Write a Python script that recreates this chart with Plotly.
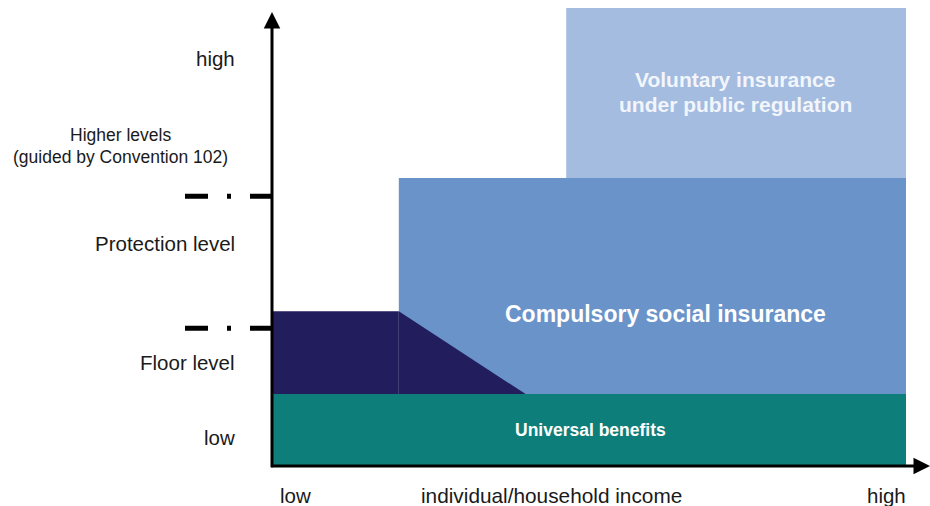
import plotly.graph_objects as go

# abstract units: income 0..100 along x, protection level 0..100 along y
income_edges = [0, 20, 40, 46.4, 100]       # start, compulsory start, floor taper end, voluntary start, end
level_edges = [0, 15.7, 33.8, 62.9, 100]     # ground, universal top, floor top, compulsory top, voluntary top
marker_levels = [30.1, 58.9]                 # dash-dot marks on the vertical axis

TEAL = "#0E7E7B"
NAVY = "#221E5E"
MID_BLUE = "#6A93CA"
LIGHT_BLUE = "#A3BCE0"
INK = "#1A1A1A"

W, H = 930, 506
X0_PX, X1_PX = 272, 906
Y0_PX, Y1_PX = 466, 8
sx = (X1_PX - X0_PX) / 100
sy = (Y0_PX - Y1_PX) / 100

x_lo, x_start, x_taper, x_vol, x_hi = income_edges
y_lo, y_uni, y_floor, y_comp, y_vol = level_edges


def poly(xs, ys, color):
    return go.Scatter(x=xs + [xs[0]], y=ys + [ys[0]], mode="lines", fill="toself",
                      fillcolor=color, line=dict(width=0, color=color),
                      hoverinfo="skip", showlegend=False)


fig = go.Figure()
# voluntary insurance
fig.add_trace(poly([x_vol, x_hi, x_hi, x_vol], [y_comp, y_comp, y_vol, y_vol], LIGHT_BLUE))
# compulsory social insurance
fig.add_trace(poly([x_start, x_hi, x_hi, x_start], [y_uni, y_uni, y_comp, y_comp], MID_BLUE))
# floor (non-contributory) with taper
fig.add_trace(poly([x_lo, x_start, x_start, x_lo], [y_uni, y_uni, y_floor, y_floor], NAVY))
fig.add_trace(poly([x_start, x_taper, x_start], [y_uni, y_uni, y_floor], NAVY))
# universal benefits
fig.add_trace(poly([x_lo, x_hi, x_hi, x_lo], [y_lo, y_lo, y_uni, y_uni], TEAL))

# dash-dot markers on the vertical axis
for lv in marker_levels:
    fig.add_trace(go.Scatter(x=[-(272 - 185) / sx, 0], y=[lv, lv], mode="lines",
                             line=dict(color="black", width=5, dash="23px,19px,4px,19px"),
                             hoverinfo="skip", showlegend=False))

# axes with arrows
fig.add_annotation(x=0, y=(Y0_PX - 12) / sy, ax=0, ay=-0.6, xref="x", yref="y",
                   axref="x", ayref="y", showarrow=True, arrowhead=2, arrowsize=1.1,
                   arrowwidth=3, arrowcolor="black", text="")
fig.add_annotation(x=(930 - X0_PX) / sx, y=0, ax=-0.4, ay=0, xref="x", yref="y",
                   axref="x", ayref="y", showarrow=True, arrowhead=2, arrowsize=1.1,
                   arrowwidth=3, arrowcolor="black", text="")


def label(text, px, py, size, color=INK, anchor="center", bold=False):
    if bold:
        text = f"<b>{text}</b>"
    fig.add_annotation(x=px / W, y=1 - py / H, xref="paper", yref="paper", text=text,
                       showarrow=False, xanchor=anchor, yanchor="middle",
                       font=dict(family="Liberation Sans, Arial", size=size, color=color))


# vertical axis labels
label("high", 237, 58, 20.5, anchor="right")
label("Higher levels", 121, 135, 17.5)
label("(guided by Convention 102)", 121, 157, 17.5)
label("Protection level", 237, 243, 20.5, anchor="right")
label("Floor level", 237, 362, 20.5, anchor="right")
label("low", 237, 437, 20.5, anchor="right")

# horizontal axis labels
label("low", 295, 495, 20.5)
label("individual/household income", 551, 495, 20.8)
label("high", 886, 495, 20.5)

# block labels
label("Voluntary insurance", 735, 80, 21, color="#F2F5FB", bold=True)
label("under public regulation", 735, 104, 21, color="#F2F5FB", bold=True)
label("Compulsory social insurance", 665, 314, 23, color="white", bold=True)
label("Universal benefits", 590, 430, 17.5, color="white", bold=True)

fig.update_layout(
    width=W, height=H,
    margin=dict(l=0, r=0, t=0, b=0),
    paper_bgcolor="white", plot_bgcolor="white",
    xaxis=dict(range=[-X0_PX / sx, (W - X0_PX) / sx], visible=False, fixedrange=True),
    yaxis=dict(range=[-(H - Y0_PX) / sy, Y0_PX / sy], visible=False, fixedrange=True),
    showlegend=False,
)

fig.write_html("out.html", config={"displayModeBar": False},
               post_script="document.body.style.margin='0';document.body.style.overflow='hidden';")
